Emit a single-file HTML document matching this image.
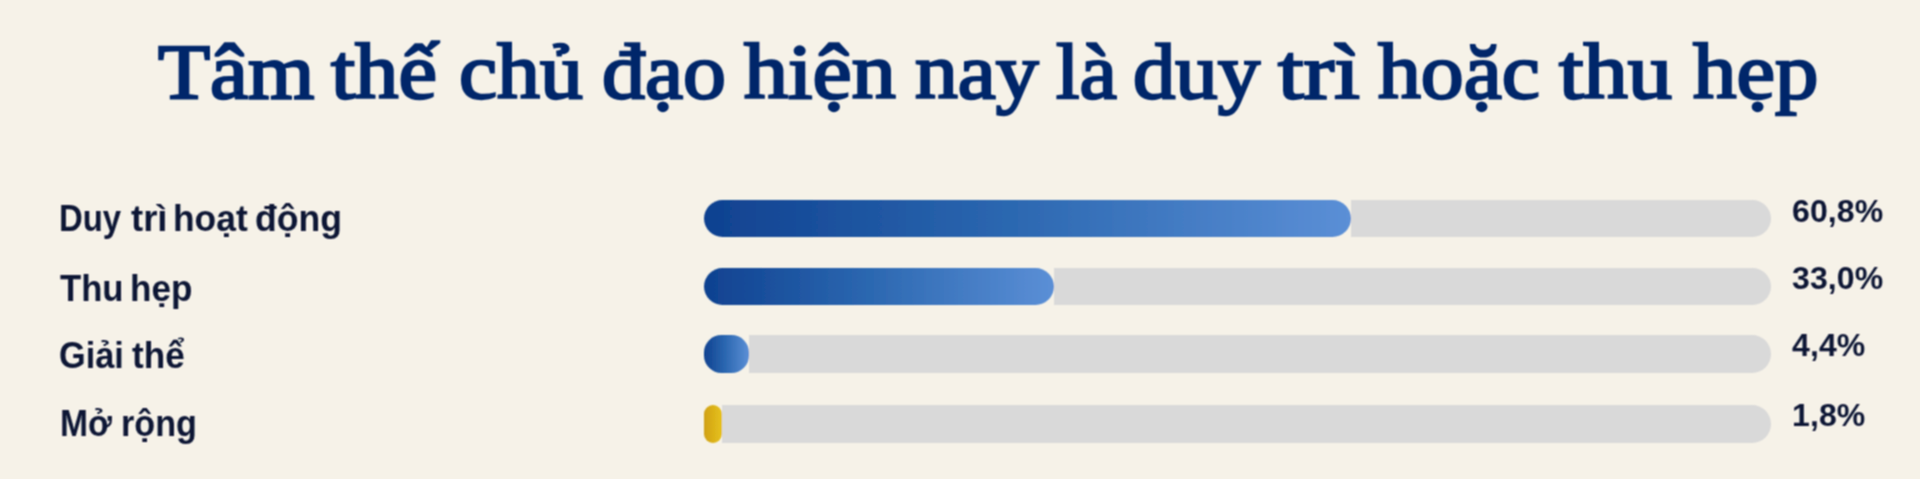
<!DOCTYPE html>
<html><head><meta charset="utf-8">
<style>
html,body{margin:0;padding:0;}
body{width:1920px;height:479px;overflow:hidden;background:#f6f2e8;position:relative;}
.title{position:absolute;left:0;top:22px;width:1920px;height:100px;}
.tw{position:absolute;top:0;white-space:nowrap;font-family:"Liberation Serif",serif;font-weight:normal;font-size:78px;line-height:100px;color:#05286a;-webkit-text-stroke:2.4px #05286a;transform-origin:0 0;}
.lab{position:absolute;left:0;width:700px;height:38px;}
.lw{position:absolute;top:0;font-family:"Liberation Sans",sans-serif;font-weight:bold;font-size:36.5px;line-height:38px;color:#0c1736;white-space:nowrap;transform-origin:0 0;}
.val{position:absolute;left:1792px;font-family:"Liberation Sans",sans-serif;font-weight:bold;font-size:32px;line-height:30px;letter-spacing:0.1px;color:#0c1736;white-space:nowrap;}
#wrap{position:absolute;left:0;top:0;width:1920px;height:479px;filter:url(#bl);}
.track{position:absolute;background:#d9d9d9;}
.fill{position:absolute;left:704px;background:linear-gradient(90deg,#0f4190 0%,#2c68b1 48%,#5b8fd6 100%);}
.fill.y{background:linear-gradient(90deg,#d0a012,#e6c21e);}
</style></head><body><svg width="0" height="0" style="position:absolute"><filter id="bl" x="0" y="0" width="100%" height="100%"><feConvolveMatrix order="3" kernelMatrix="1 2 1 2 4 2 1 2 1" divisor="16" edgeMode="duplicate" preserveAlpha="false"/></filter></svg><div id="wrap">
<div class="title"><span class="tw" style="left:157.5px;transform:scaleX(1.094)">Tâm</span><span class="tw" style="left:331.0px;transform:scaleX(1.112)">thế</span><span class="tw" style="left:458.8px;transform:scaleX(1.100)">chủ</span><span class="tw" style="left:601.8px;transform:scaleX(1.101)">đạo</span><span class="tw" style="left:744.0px;transform:scaleX(1.131)">hiện</span><span class="tw" style="left:914.9px;transform:scaleX(1.098)">nay</span><span class="tw" style="left:1055.5px;transform:scaleX(1.080)">là</span><span class="tw" style="left:1132.8px;transform:scaleX(1.086)">duy</span><span class="tw" style="left:1277.5px;transform:scaleX(1.181)">trì</span><span class="tw" style="left:1377.5px;transform:scaleX(1.099)">hoặc</span><span class="tw" style="left:1559.0px;transform:scaleX(1.135)">thu</span><span class="tw" style="left:1692.5px;transform:scaleX(1.113)">hẹp</span></div>

<div class="lab" style="top:200px"><span class="lw" style="left:59.2px;transform:scaleX(0.900)">Duy</span><span class="lw" style="left:131.0px;transform:scaleX(1.000)">trì</span><span class="lw" style="left:173.1px;transform:scaleX(0.969)">hoạt</span><span class="lw" style="left:255.0px;transform:scaleX(0.976)">động</span></div>
<div class="track" style="top:200px;left:1351px;width:420px;height:37px;border-radius:0 18.5px 18.5px 0"></div>
<div class="fill" style="top:200px;width:647px;height:37px;border-radius:18.5px"></div>
<div class="val" style="top:196px">60,8%</div>

<div class="lab" style="top:270px"><span class="lw" style="left:60.0px;transform:scaleX(0.950)">Thu</span><span class="lw" style="left:130.4px;transform:scaleX(0.962)">hẹp</span></div>
<div class="track" style="top:268px;left:1054px;width:717px;height:37px;border-radius:0 18.5px 18.5px 0"></div>
<div class="fill" style="top:268px;width:350px;height:37px;border-radius:18.5px"></div>
<div class="val" style="top:263px">33,0%</div>

<div class="lab" style="top:337px"><span class="lw" style="left:59.4px;transform:scaleX(0.939)">Giải</span><span class="lw" style="left:132.0px;transform:scaleX(0.963)">thể</span></div>
<div class="track" style="top:335px;left:749px;width:1022px;height:38px;border-radius:0 19.0px 19.0px 0"></div>
<div class="fill" style="top:335px;width:45px;height:38px;border-radius:17.5px"></div>
<div class="val" style="top:330px">4,4%</div>

<div class="lab" style="top:405px"><span class="lw" style="left:59.5px;transform:scaleX(0.922)">Mở</span><span class="lw" style="left:121.4px;transform:scaleX(0.936)">rộng</span></div>
<div class="track" style="top:405px;left:722px;width:1049px;height:38px;border-radius:0 19.0px 19.0px 0"></div>
<div class="fill y" style="top:405px;width:18px;height:38px;border-radius:19.0px"></div>
<div class="val" style="top:400px">1,8%</div>

</div></body></html>
